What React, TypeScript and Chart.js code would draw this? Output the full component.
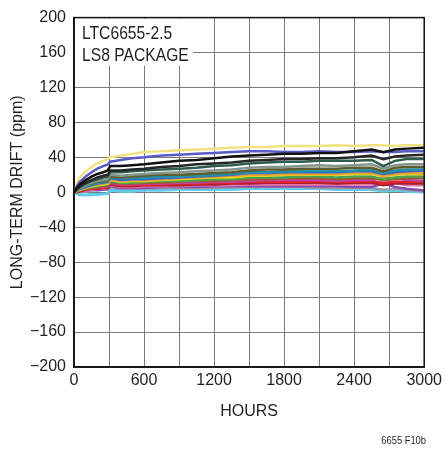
import React, { useEffect, useRef } from "react";
import { Chart, registerables } from "chart.js";

Chart.register(...registerables);

const FONT = "'Liberation Sans', Arial, Helvetica, sans-serif";

const hours = [0, 20, 50, 100, 150, 200, 250, 290, 310, 400, 500, 600, 750, 900, 1050, 1200, 1350, 1500, 1650, 1800, 1950, 2100, 2250, 2400, 2550, 2650, 2750, 2850, 3000];

const yellowA = [0, 9, 17, 24, 29, 33, 36, 38, 40, 42, 44, 46, 47, 48, 49, 50, 51, 52, 52, 53, 53, 53, 54, 53, 54, 54, 53, 54, 54];
const blueA = [0, 6, 12, 18, 23, 27, 30, 32, 35, 37, 39, 40, 42, 43, 44, 45, 46, 47, 47, 46, 46, 47, 46, 46, 47, 46, 46, 47, 47];
const blackA = [0, 4, 9, 14, 18, 21, 23, 25, 30, 30, 31, 32, 34, 36, 37, 39, 41, 42, 43, 44, 44, 45, 45, 47, 49, 46, 49, 50, 51];
const blackB = [0, 3, 7, 11, 14, 17, 19, 20, 25, 25, 26, 27, 29, 30, 32, 33, 34, 36, 37, 38, 38, 39, 39, 40, 42, 38, 41, 42, 43];
const darkGreen = [0, 3, 6, 10, 13, 15, 17, 18, 23, 23, 24, 25, 26, 27, 28, 30, 31, 33, 34, 35, 35, 36, 36, 36, 37, 30, 36, 38, 38];
const grayGreen = [0, 2, 5, 8, 11, 13, 14, 15, 20, 19, 20, 21, 22, 23, 24, 25, 26, 28, 29, 29, 30, 31, 30, 31, 32, 27, 31, 32, 32];
const olive = [0, 2, 5, 8, 10, 12, 13, 14, 18, 17, 18, 19, 20, 20, 21, 22, 23, 25, 26, 26, 27, 27, 27, 28, 28, 24, 28, 29, 29];
const teal = [0, 2, 4, 7, 9, 11, 12, 13, 17, 16, 17, 17, 18, 18, 19, 20, 21, 23, 23, 24, 24, 25, 24, 25, 26, 22, 25, 26, 26];
const blueB = [0, 2, 4, 6, 8, 10, 11, 12, 16, 14, 15, 15, 16, 17, 18, 19, 20, 22, 22, 23, 23, 23, 23, 24, 24, 21, 23, 24, 25];
const orange = [0, 1, 3, 6, 8, 9, 10, 11, 15, 13, 14, 14, 15, 16, 17, 18, 19, 20, 20, 21, 21, 21, 21, 22, 22, 19, 21, 22, 22];
const yellowB = [0, 1, 3, 5, 7, 8, 9, 10, 14, 12, 13, 13, 14, 15, 16, 17, 17, 19, 19, 20, 20, 20, 20, 21, 21, 18, 20, 21, 21];
const green = [0, 1, 3, 5, 6, 7, 8, 9, 13, 11, 11, 12, 13, 13, 14, 15, 15, 17, 17, 17, 18, 18, 17, 18, 18, 15, 17, 18, 18];
const brown = [0, 1, 2, 4, 5, 6, 7, 8, 12, 10, 10, 11, 11, 12, 13, 13, 14, 15, 15, 16, 16, 16, 15, 16, 16, 14, 15, 16, 16];
const magenta = [0, 1, 2, 4, 5, 6, 6, 7, 11, 9, 9, 10, 10, 11, 11, 12, 12, 13, 14, 14, 14, 14, 13, 14, 14, 17, 16, 14, 13];
const red = [0, 1, 2, 3, 4, 5, 5, 6, 10, 8, 8, 9, 9, 10, 10, 11, 11, 12, 12, 12, 12, 13, 12, 12, 13, 10, 12, 12, 12];
const darkRed = [0, 0, 1, 3, 4, 4, 5, 5, 9, 7, 7, 8, 8, 8, 9, 9, 10, 10, 11, 11, 11, 11, 10, 11, 11, 8, 10, 10, 10];
const pink = [0, 0, 1, 2, 3, 4, 4, 5, 8, 6, 6, 7, 7, 7, 8, 8, 8, 9, 9, 9, 9, 9, 9, 9, 9, 13, 11, 8, 8];
const purple = [0, 0, 1, 2, 3, 3, 3, 4, 7, 5, 5, 5, 6, 6, 6, 7, 7, 7, 7, 7, 7, 7, 7, 6, 6, 10, 6, 4, 2];
const gray = [0, 0, 1, 1, 2, 2, 3, 3, 6, 4, 4, 4, 5, 5, 5, 5, 6, 6, 6, 6, 6, 5, 5, 5, 5, 3, 4, 3, 1];
const lightBlue = [0, -1, -2, -3, -2, -3, -2, -2, 2, 1, 1, 2, 2, 3, 3, 3, 3, 4, 4, 4, 4, 4, 3, 3, 3, 1, 2, 1, 0];
const cyan = [0, -1, -3, -3, -3, -2, -2, -1, 3, 2, 2, 3, 3, 4, 4, 5, 5, 5, 5, 5, 5, 5, 4, 4, 4, 2, 3, 3, 2];

const seriesList: [number[], string][] = [
  [blackA, "#111111"],
  [blueA, "#5a5ac6"],
  [yellowA, "#f0e27e"],
  [blackB, "#262626"],
  [darkGreen, "#2e5d50"],
  [grayGreen, "#84968c"],
  [olive, "#5f5d2c"],
  [teal, "#2391aa"],
  [blueB, "#3a68c6"],
  [orange, "#e8a030"],
  [yellowB, "#e4d01c"],
  [green, "#4aa44c"],
  [brown, "#9a5a3a"],
  [magenta, "#c23f9e"],
  [red, "#e4202e"],
  [darkRed, "#a82030"],
  [pink, "#e877a8"],
  [purple, "#8a4cb0"],
  [gray, "#9a9aa8"],
  [lightBlue, "#62cdee"],
  [cyan, "#3fb8e0"],
];

const xTickValues = [0, 600, 1200, 1800, 2400, 3000];
const yTickValues = [-200, -160, -120, -80, -40, 0, 40, 80, 120, 160, 200];
const boxLines = ["LTC6655-2.5", "LS8 PACKAGE"];
const footnote = "6655 F10b";

const overlayPlugin = {
  id: "overlay",
  beforeDatasetsDraw(chart: any) {
    const { ctx, chartArea } = chart;
    ctx.save();
    ctx.fillStyle = "#ffffff";
    ctx.fillRect(chartArea.left + 1, chartArea.top + 1, 118, 47);
    ctx.fillStyle = "#231f20";
    ctx.font = `18px ${FONT}`;
    ctx.textBaseline = "alphabetic";
    ctx.textAlign = "left";
    ctx.translate(chartArea.left + 8, chartArea.top);
    ctx.scale(0.87, 1);
    ctx.fillText(boxLines[0], 0, 21);
    ctx.fillText(boxLines[1], 0, 43);
    ctx.restore();
  },
  afterDatasetsDraw(chart: any) {
    const { ctx, chartArea } = chart;
    ctx.save();
    ctx.strokeStyle = "#111111";
    ctx.lineWidth = 1.5;
    ctx.strokeRect(chartArea.left, chartArea.top, chartArea.right - chartArea.left, chartArea.bottom - chartArea.top);
    ctx.restore();
  },
  afterDraw(chart: any) {
    const { ctx } = chart;
    ctx.save();
    ctx.fillStyle = "#231f20";
    ctx.font = `11px ${FONT}`;
    ctx.textAlign = "right";
    ctx.textBaseline = "alphabetic";
    ctx.translate(426, 444);
    ctx.scale(0.85, 1);
    ctx.fillText(footnote, 0, 0);
    ctx.restore();
  },
};

export default function App() {
  const ref = useRef<HTMLCanvasElement>(null);
  useEffect(() => {
    document.body.style.margin = "0";
    const canvas = ref.current;
    if (!canvas) return;
    const chart = new Chart(canvas, {
      type: "line",
      data: {
        datasets: seriesList.map(([vals, color]) => ({
          data: hours.map((h, i) => ({ x: h, y: vals[i] })),
          borderColor: color,
          backgroundColor: color,
          borderWidth: 2.5,
          pointRadius: 0,
          tension: 0,
        })),
      },
      options: {
        responsive: false,
        animation: false,
        layout: { padding: { top: 17, right: 20, left: 0, bottom: 0 } },
        plugins: { legend: { display: false }, tooltip: { enabled: false } },
        scales: {
          x: {
            type: "linear",
            min: 0,
            max: 3000,
            afterBuildTicks: (scale: any) => {
              const t = [];
              for (let v = 0; v <= 3000; v += 300) t.push({ value: v });
              scale.ticks = t;
            },
            ticks: {
              autoSkip: false,
              maxRotation: 0,
              padding: 4,
              color: "#231f20",
              font: { family: FONT, size: 16 },
              callback: (v: any) => (xTickValues.includes(Number(v)) ? String(v) : ""),
            },
            grid: { color: "#7a7a7a", lineWidth: 1, drawTicks: false },
            border: { color: "#111", width: 1.5 },
            title: {
              display: true,
              text: "HOURS",
              color: "#231f20",
              font: { family: FONT, size: 16 },
              padding: { top: 0, bottom: 28 },
            },
            afterFit: (scale: any) => {
              scale.height = 82;
            },
          },
          y: {
            min: -200,
            max: 200,
            afterBuildTicks: (scale: any) => {
              scale.ticks = yTickValues.map((v) => ({ value: v }));
            },
            ticks: {
              padding: 8,
              color: "#231f20",
              font: { family: FONT, size: 16 },
              callback: (v: any) => (Number(v) < 0 ? "\u2212" + Math.abs(Number(v)) : String(v)),
            },
            grid: { color: "#7a7a7a", lineWidth: 1, drawTicks: false },
            border: { color: "#111", width: 1.5 },
            title: {
              display: true,
              text: "LONG-TERM DRIFT (ppm)",
              color: "#231f20",
              font: { family: FONT, size: 16 },
              padding: { top: 8, bottom: 0 },
            },
            afterFit: (scale: any) => {
              scale.width = 74;
            },
          },
        },
      },
      plugins: [overlayPlugin],
    } as any);
    return () => chart.destroy();
  }, []);
  return (
    <div style={{ width: 446, height: 449 }}>
      <canvas ref={ref} width={446} height={449} style={{ display: "block" }} />
    </div>
  );
}
